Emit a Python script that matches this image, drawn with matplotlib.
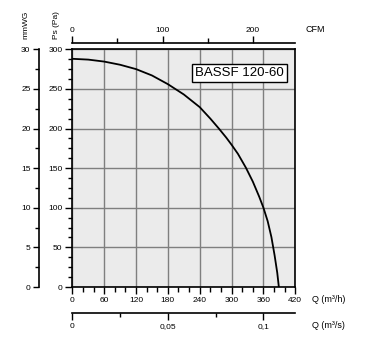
import numpy as np
import matplotlib
matplotlib.use("Agg")
from matplotlib import pyplot as plt
from matplotlib.ticker import MultipleLocator

plt.rcParams['font.family'] = ['Liberation Sans', 'DejaVu Sans']

# Curva do ventilador
q_m3h = [0, 30, 60, 90, 120, 150, 180, 210, 240, 260, 276, 290, 300, 312, 327, 340, 352, 360, 368, 375, 381, 386, 389]
ps_pa = [288, 287, 284.5, 280.5, 275, 267, 256, 243, 227, 212.5, 200, 188.5, 179.5, 168, 150.5, 133, 114, 100, 83, 63, 40, 18, 0]

modelo = "BASSF 120-60"
ticks_cfm = [0, 100, 200]
ticks_m3s = [0, 0.05, 0.1]
rotulos_m3s = ["0", "0,05", "0,1"]

M3H_POR_CFM = 1.699
PA_POR_MMWG = 10.0

px = 72 / 100  # pontos por pixel

fig = plt.figure(figsize=(3.68, 3.49), dpi=100)
ax = fig.add_axes([72.3 / 368, 1 - 287 / 349, 223 / 368, 237.7 / 349])
ax.set_facecolor('#ebebeb')

ax.plot(q_m3h, ps_pa, color='black', lw=1.3, zorder=3)
ax.set_xlim(0, 420)
ax.set_ylim(0, 300)

ax.xaxis.set_major_locator(MultipleLocator(60))
ax.xaxis.set_minor_locator(MultipleLocator(20))
ax.yaxis.set_major_locator(MultipleLocator(50))
ax.yaxis.set_minor_locator(MultipleLocator(12.5))
ax.grid(True, which='major', color='#7f7f7f', lw=1.0)
ax.set_axisbelow(True)
for s in ax.spines.values():
    s.set_linewidth(1.2)
ax.tick_params(which='major', length=7 * px, width=1.0, labelsize=6, pad=2, colors='black')
ax.tick_params(which='minor', length=4.5 * px, width=1.0)

ax.text(315, 270, modelo, ha='center', va='center', fontsize=9.5, zorder=5,
        bbox=dict(boxstyle='square,pad=0.25', facecolor='white', edgecolor='black', lw=1.0))

# eixo superior CFM
sec_cfm = ax.secondary_xaxis('top', functions=(lambda q: q / M3H_POR_CFM, lambda c: c * M3H_POR_CFM))
sec_cfm.spines['top'].set_position(('outward', 6 * px))
sec_cfm.spines['top'].set_linewidth(1.2)
sec_cfm.set_xticks(ticks_cfm)
sec_cfm.xaxis.set_minor_locator(MultipleLocator(50))
sec_cfm.tick_params(which='major', length=7 * px, width=1.0, labelsize=6, pad=2)
sec_cfm.tick_params(which='minor', length=5 * px, width=1.0)

# eixo inferior m3/s
sec_m3s = ax.secondary_xaxis('bottom', functions=(lambda q: q / 3600, lambda s: s * 3600))
sec_m3s.spines['bottom'].set_position(('outward', 26 * px))
sec_m3s.spines['bottom'].set_linewidth(1.2)
sec_m3s.set_xticks(ticks_m3s, rotulos_m3s)
sec_m3s.xaxis.set_minor_locator(MultipleLocator(0.025))
sec_m3s.tick_params(which='major', length=7 * px, width=1.0, labelsize=6, pad=2)
sec_m3s.tick_params(which='minor', length=4 * px, width=1.0)

# eixo mmWG
sec_mm = ax.secondary_yaxis('left', functions=(lambda p: p / PA_POR_MMWG, lambda m: m * PA_POR_MMWG))
sec_mm.spines['left'].set_position(('outward', 33 * px))
sec_mm.spines['left'].set_linewidth(1.2)
sec_mm.yaxis.set_major_locator(MultipleLocator(5))
sec_mm.yaxis.set_minor_locator(MultipleLocator(2.5))
sec_mm.tick_params(which='major', length=6 * px, width=1.0, labelsize=6, pad=2)
sec_mm.tick_params(which='minor', length=4 * px, width=1.0)

# rotulos
fig.text(312 / 368, 1 - 300 / 349, "Q (m³/h)", fontsize=6.5, ha='left', va='center')
fig.text(312 / 368, 1 - 326 / 349, "Q (m³/s)", fontsize=6.5, ha='left', va='center')
fig.text(305 / 368, 1 - 30 / 349, "CFM", fontsize=6.5, ha='left', va='center')
fig.text(56 / 368, 1 - 11 / 349, "Ps (Pa)", fontsize=6, rotation=90, ha='center', va='top')
fig.text(26 / 368, 1 - 11 / 349, "mmWG", fontsize=6, rotation=90, ha='center', va='top')

fig.savefig("out.png", dpi=100)
